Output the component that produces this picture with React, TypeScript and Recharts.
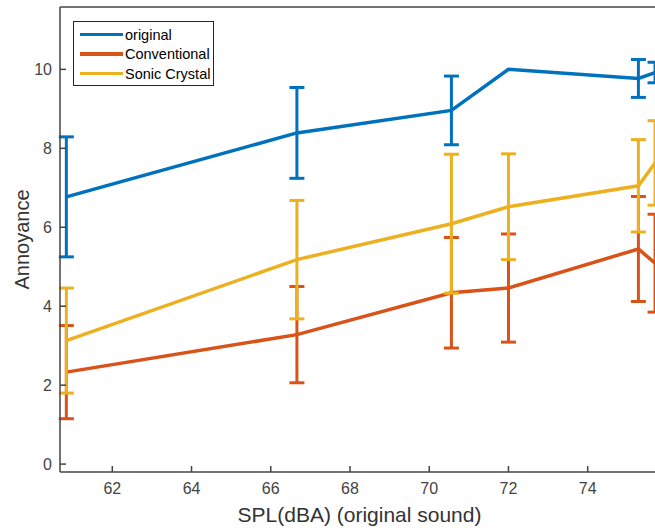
import React from "react";
import {
  LineChart,
  Line,
  XAxis,
  YAxis,
  ErrorBar,
} from "recharts";

// SPL of the original sound (dBA)
const spl = [60.84, 66.66, 70.56, 72.0, 75.28, 75.7];

const original = [6.77, 8.39, 8.96, 10.0, 9.77, 9.92];
const originalErr = [1.52, 1.15, 0.87, 0, 0.48, 0.26];

const conventional = [2.33, 3.28, 4.34, 4.46, 5.45, 5.09];
const conventionalErr = [1.18, 1.22, 1.4, 1.37, 1.33, 1.24];

const sonicCrystal = [3.13, 5.18, 6.09, 6.52, 7.05, 7.63];
const sonicCrystalErr = [1.33, 1.5, 1.76, 1.34, 1.17, 1.07];

const xTicks = [62, 64, 66, 68, 70, 72, 74];
const yTicks = [0, 2, 4, 6, 8, 10];

const legendItems = ["original", "Conventional", "Sonic Crystal"];

const BLUE = "#0072BD";
const ORANGE = "#D95319";
const YELLOW = "#EDB120";
const AXIS = "#444444";
const FONT = "'Liberation Sans', Arial, Helvetica, sans-serif";

const X_DOMAIN: [number, number] = [60.68, 75.8];
const Y_DOMAIN: [number, number] = [-0.2, 11.58];

const data = spl.map((x, i) => ({
  spl: x,
  original: original[i],
  originalErr: originalErr[i],
  conventional: conventional[i],
  conventionalErr: conventionalErr[i],
  sonicCrystal: sonicCrystal[i],
  sonicCrystalErr: sonicCrystalErr[i],
}));

const colors = [BLUE, ORANGE, YELLOW];

function LegendBox(): React.ReactElement {
  return (
    <div
      style={{
        position: "absolute",
        left: 73,
        top: 21,
        width: 139,
        height: 63,
        border: "1px solid #262626",
        background: "#fff",
        fontFamily: FONT,
        fontSize: 14.5,
        color: "#000",
      }}
    >
      {legendItems.map((name, i) => (
        <div
          key={name}
          style={{
            position: "absolute",
            left: 6,
            top: 3 + i * 19.5,
            height: 19,
            display: "flex",
            alignItems: "center",
            whiteSpace: "nowrap",
          }}
        >
          <span
            style={{
              display: "inline-block",
              width: 43,
              height: 3.5,
              background: colors[i],
              marginRight: 2,
            }}
          />
          {name}
        </div>
      ))}
    </div>
  );
}

export default function App(): React.ReactElement {
  const tickStyle = { fill: AXIS, fontSize: 16, fontFamily: FONT };
  return (
    <div
      style={{
        position: "fixed",
        left: 0,
        top: 0,
        width: 655,
        height: 532,
        overflow: "hidden",
        background: "#fff",
      }}
    >
      <LineChart
        width={690}
        height={532}
        data={data}
        margin={{ top: 6, right: 30, bottom: 0, left: 0 }}
      >
        <XAxis
          dataKey="spl"
          type="number"
          domain={X_DOMAIN}
          ticks={xTicks}
          allowDataOverflow
          height={60}
          tickSize={-6}
          tickMargin={17}
          tick={tickStyle}
          stroke={AXIS}
          axisLine={{ stroke: AXIS, strokeWidth: 1.5 }}
          tickLine={{ stroke: AXIS, strokeWidth: 1.5 }}
          label={{
            value: "SPL(dBA) (original sound)",
            position: "center",
            dy: 13,
            fill: "#333",
            fontSize: 21,
            fontFamily: FONT,
          }}
        />
        <XAxis
          xAxisId="top"
          orientation="top"
          type="number"
          domain={X_DOMAIN}
          ticks={xTicks}
          allowDataOverflow
          height={1}
          tickSize={-6}
          tick={false}
          axisLine={{ stroke: AXIS, strokeWidth: 1.5 }}
          tickLine={{ stroke: AXIS, strokeWidth: 1.5 }}
        />
        <YAxis
          type="number"
          domain={Y_DOMAIN}
          ticks={yTicks}
          allowDataOverflow
          width={60}
          tickSize={-6}
          tickMargin={14}
          tick={tickStyle}
          axisLine={{ stroke: AXIS, strokeWidth: 1.5 }}
          tickLine={{ stroke: AXIS, strokeWidth: 1.5 }}
          label={{
            value: "Annoyance",
            angle: -90,
            position: "center",
            dx: -8,
            fill: "#333",
            fontSize: 20,
            fontFamily: FONT,
          }}
        />
        <YAxis
          yAxisId="right"
          orientation="right"
          type="number"
          domain={Y_DOMAIN}
          ticks={yTicks}
          allowDataOverflow
          width={1}
          tickSize={-6}
          tick={false}
          axisLine={{ stroke: AXIS, strokeWidth: 1.5 }}
          tickLine={{ stroke: AXIS, strokeWidth: 1.5 }}
        />
        <Line
          dataKey="original"
          stroke={BLUE}
          strokeWidth={3.5}
          dot={false}
          isAnimationActive={false}
        >
          <ErrorBar
            dataKey="originalErr"
            direction="y"
            width={7.5}
            stroke={BLUE}
            strokeWidth={3}
            isAnimationActive={false}
          />
        </Line>
        <Line
          dataKey="conventional"
          stroke={ORANGE}
          strokeWidth={3.5}
          dot={false}
          isAnimationActive={false}
        >
          <ErrorBar
            dataKey="conventionalErr"
            direction="y"
            width={7.5}
            stroke={ORANGE}
            strokeWidth={3}
            isAnimationActive={false}
          />
        </Line>
        <Line
          dataKey="sonicCrystal"
          stroke={YELLOW}
          strokeWidth={3.5}
          dot={false}
          isAnimationActive={false}
        >
          <ErrorBar
            dataKey="sonicCrystalErr"
            direction="y"
            width={7.5}
            stroke={YELLOW}
            strokeWidth={3}
            isAnimationActive={false}
          />
        </Line>
      </LineChart>
      <LegendBox />
    </div>
  );
}
